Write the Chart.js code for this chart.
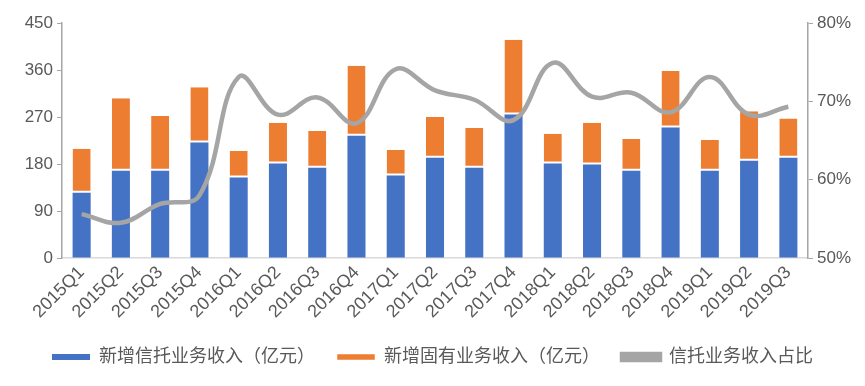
<!DOCTYPE html>
<html><head><meta charset="utf-8">
<script src="https://cdn.jsdelivr.net/npm/chart.js@4.4.1/dist/chart.umd.min.js"></script>
<style>html,body{margin:0;padding:0;background:#fff}#wrap{width:865px;height:386px}</style>
</head><body><div id="wrap"><canvas id="c" width="865" height="386"></canvas></div>
<script>
const categories = ["2015Q1","2015Q2","2015Q3","2015Q4","2016Q1","2016Q2","2016Q3","2016Q4","2017Q1","2017Q2","2017Q3","2017Q4","2018Q1","2018Q2","2018Q3","2018Q4","2019Q1","2019Q2","2019Q3"];
const trustIncome = [125,167,167,221,154,181,173,234,158,192,173,275,181,179,167,250,167,186,192];
const ownIncome   = [84,139,105,106,51,78,70,134,49,78,76,143,57,80,61,108,59,95,75];
const trustShare  = [55.6,54.5,56.9,58.0,73.1,68.3,70.5,67.2,74.1,71.4,70.2,67.6,74.9,70.6,71.1,68.6,73.1,68.3,69.3];
const leftTicks = [0,90,180,270,360,450];
const rightTicks = [50,60,70,80];
const seriesNames = ["新增信托业务收入（亿元）","新增固有业务收入（亿元）","信托业务收入占比"];

const FONT = "'Liberation Sans','Noto Sans CJK SC',sans-serif";
const TXT = '#595959';
new Chart(document.getElementById('c'), {
  data: {
    labels: categories,
    datasets: [
      {type:'bar', label:seriesNames[0], data:trustIncome, backgroundColor:'#4472C4', borderColor:'#ffffff',
       borderWidth:0, yAxisID:'y', stack:'s', order:2,
       barPercentage:0.46, categoryPercentage:1.0},
      {type:'bar', label:seriesNames[1], data:ownIncome, backgroundColor:'#ED7D31', borderColor:'#ffffff',
       borderWidth:{top:0,right:0,bottom:2,left:0}, borderSkipped:false, yAxisID:'y', stack:'s', order:3,
       barPercentage:0.46, categoryPercentage:1.0},
      {type:'line', label:seriesNames[2], data:trustShare, borderColor:'#A5A5A5', backgroundColor:'#A5A5A5',
       borderWidth:4.5, pointRadius:0, tension:0.4, yAxisID:'y1', order:0}
    ]
  },
  options: {
    responsive:false, animation:false,
    layout:{padding:{left:0,right:0,top:23,bottom:10}},
    plugins:{
      legend:{position:'bottom', labels:{font:{family:FONT,size:18}, color:TXT, boxWidth:38, boxHeight:6, padding:22,
        sort:(a,b)=>a.datasetIndex-b.datasetIndex}},
      tooltip:{enabled:false}
    },
    scales:{
      x:{stacked:true, grid:{display:true, drawOnChartArea:false, drawTicks:false, color:'#D9D9D9'},
         border:{color:'#D9D9D9', width:1.5},
         afterFit:(s)=>{s.height = 68;},
         ticks:{font:{family:FONT,size:18}, color:TXT, maxRotation:45, minRotation:45, padding:4}},
      y:{stacked:true, min:0, max:450, position:'left',
         afterBuildTicks:(s)=>{s.ticks = leftTicks.map(v=>({value:v}));},
         afterFit:(s)=>{s.width = 62;},
         grid:{drawOnChartArea:false, tickLength:5, color:'#A6A6A6'},
         border:{color:'#A6A6A6', width:1.5},
         ticks:{font:{family:FONT,size:17}, color:TXT, padding:4}},
      y1:{min:50, max:80, position:'right',
         afterBuildTicks:(s)=>{s.ticks = rightTicks.map(v=>({value:v}));},
         afterFit:(s)=>{s.width = 57;},
         grid:{drawOnChartArea:false, tickLength:5, color:'#A6A6A6'},
         border:{color:'#A6A6A6', width:1.5},
         ticks:{font:{family:FONT,size:17}, color:TXT, padding:4, callback:(v)=>v+'%'}}
    }
  }
});
</script></body></html>
